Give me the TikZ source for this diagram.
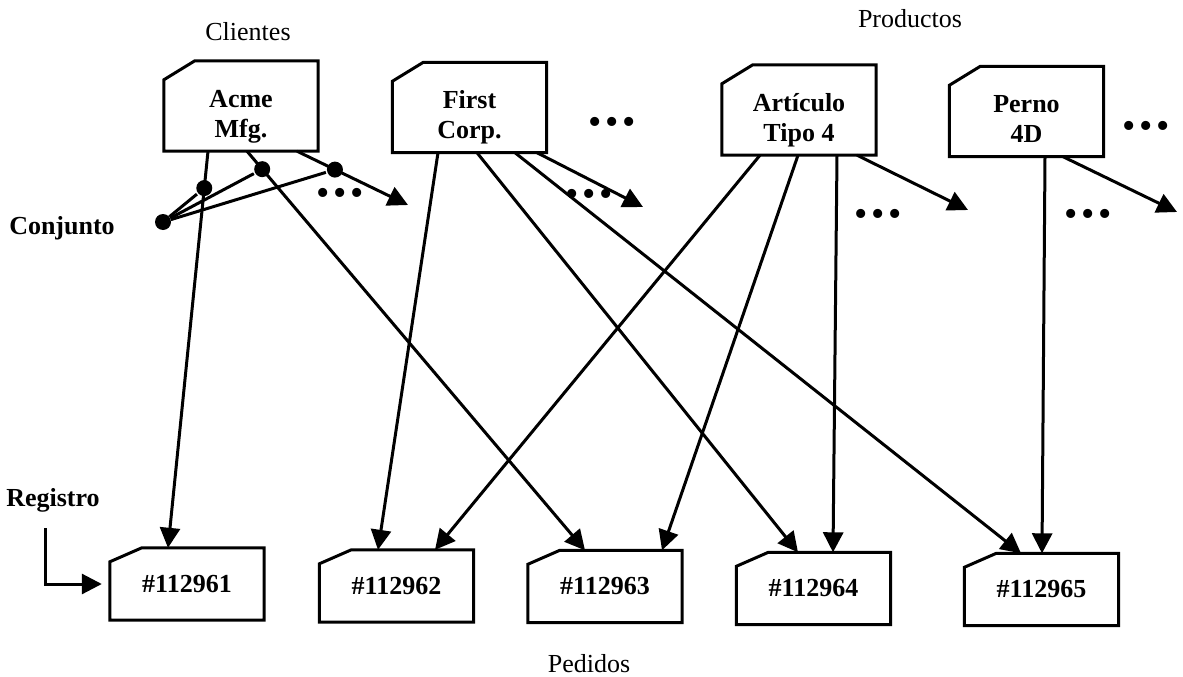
\documentclass[tikz,border=0pt]{standalone}
\usepackage{fontspec}
\setmainfont{Liberation Serif}
\usetikzlibrary{arrows.meta}

\tikzset{
   rec/.style 2 args={rectangle, minimum width=154pt, inner sep=0pt, align=center,
      font=\fontsize{26}{30}\selectfont\bfseries,
      append after command={\pgfextra{\draw[line width=3pt]
         ([yshift=-#2]\tikzlastnode.north west) -- ([xshift=#1]\tikzlastnode.north west)
         -- (\tikzlastnode.north east) -- (\tikzlastnode.south east)
         -- (\tikzlastnode.south west) -- cycle;}}},
   cli/.style={rec={31pt}{19pt}, minimum height=90pt, text height=68pt, text depth=6pt},
   ped/.style={rec={32pt}{14pt}, minimum height=72pt},
   titulo/.style={font=\fontsize{26}{30}\selectfont},
   lado/.style={font=\fontsize{26}{30}\selectfont\bfseries},
   punto/.style={circle, fill, inner sep=0pt, minimum size=16pt},
   etc/.style={font=\fontsize{38}{40}\selectfont, inner sep=0pt},
   arr/.style={line width=3pt, -{Triangle[length=20pt,width=20pt]}},
}

\begin{document}
\begin{tikzpicture}[x=1pt, y=-1pt]
   \useasboundingbox (0,0) rectangle (1183,677);

   \node[titulo] (clientes) at (248,32) {Clientes};
   \node[titulo] (productos) at (910,19) {Productos};
   \node[titulo] (pedidos) at (589,664) {Pedidos};
   \node[lado] (conj) at (62,228) {Conjunto};
   \node[lado] (reg) at (53,500) {Registro};

   \node[cli] (acme) at (241,106) {Acme\\Mfg.};
   \node[cli] (first) at (469.5,107.5) {First\\Corp.};
   \node[cli] (art) at (799,110) {Artículo\\Tipo 4};
   \node[cli] (perno) at (1026.5,111.5) {Perno\\4D};

   \node[ped] (p1) at (187,584) {\#112961};
   \node[ped] (p2) at (396.5,586) {\#112962};
   \node[ped] (p3) at (605,586.5) {\#112963};
   \node[ped] (p4) at (813.5,588.5) {\#112964};
   \node[ped] (p5) at (1041.5,589.5) {\#112965};

   \foreach \x/\y [count=\i] in {340/197, 612/126, 589/198, 878/218, 1146/130, 1088/218}
   \node[etc] (e\i) at (\x,\y) {\textbullet\kern4pt\textbullet\kern4pt\textbullet};

   \coordinate (fa) at (408,205);
   \coordinate (ff) at (643,207);
   \coordinate (fr) at (968,210);
   \coordinate (fp) at (1177,212);
   \coordinate (rs) at (45,528);

   \draw[arr] ([xshift=-33pt]acme.south) -- node[punto,pos=.093] (d1) {} ([xshift=-19pt]p1.north);
   \draw[arr] ([xshift=6pt]acme.south) -- node[punto,pos=.045] (d2) {} ([xshift=-20pt]p3.north);
   \draw[arr] ([xshift=56pt]acme.south) -- node[punto,pos=.342] (d3) {} (fa);
   \node[punto] (d0) at (163,222) {};
   \foreach \d in {d1,d2,d3}
   \draw[line width=3pt] (d0) -- (\d);

   \draw[arr] ([xshift=-31.5pt]first.south) -- ([xshift=-18.5pt]p2.north);
   \draw[arr] ([xshift=7.5pt]first.south) -- ([xshift=-15.5pt]p4.north);
   \draw[arr] ([xshift=45.5pt]first.south) -- ([xshift=-20.5pt]p5.north);
   \draw[arr] ([xshift=67.5pt]first.south) -- (ff);

   \draw[arr] ([xshift=-39pt]art.south) -- ([xshift=38.5pt]p2.north);
   \draw[arr] ([xshift=-1pt]art.south) -- ([xshift=57pt]p3.north);
   \draw[arr] ([xshift=38pt]art.south) -- ([xshift=19.5pt]p4.north);
   \draw[arr] ([xshift=58pt]art.south) -- (fr);

   \draw[arr] ([xshift=18.5pt]perno.south) -- ([xshift=0.5pt]p5.north);
   \draw[arr] ([xshift=36.5pt]perno.south) -- (fp);

   \draw[arr] (rs) |- ([xshift=-8pt]p1.west);

\end{tikzpicture}
\end{document}
